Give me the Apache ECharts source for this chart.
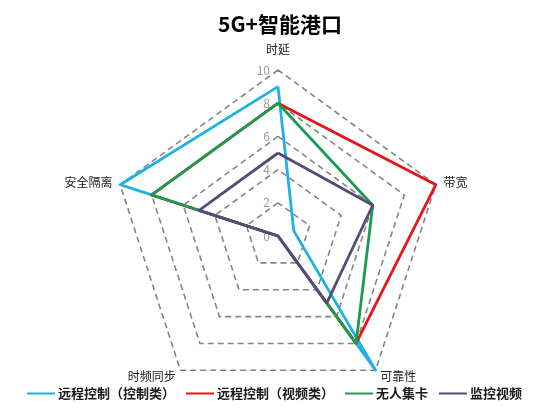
<!DOCTYPE html>
<html>
<head>
<meta charset="utf-8">
<script src="https://cdn.jsdelivr.net/npm/echarts@6/dist/echarts.min.js"></script>
<style>
	html, body { margin: 0; padding: 0; background: #fff; }
	#chart { width: 560px; height: 415px; }
</style>
</head>
<body>
<div id="chart"></div>
<script>
// indicators listed counterclockwise from the top (ECharts radar order)
var indicatorNames = ['时延', '安全隔离', '时频同步', '可靠性', '带宽'];
var seriesNames = ['远程控制（控制类）', '远程控制（视频类）', '无人集卡', '监控视频'];
var ctrlData = [9, 10, 0, 10, 1];
var videoData = [8, 8, 0, 8, 10];
var truckData = [8, 8, 0, 8, 6];
var monitorData = [5, 5, 0, 5, 6];
var colors = ['#1fb1e6', '#e8141b', '#1a9b4f', '#574a78'];

var fontFamily = '"Noto Sans CJK SC", sans-serif';
var allData = [ctrlData, videoData, truckData, monitorData];

var indicator = [];
for (var i = 0; i < indicatorNames.length; i++) {
	var ind = { name: indicatorNames[i], min: 0, max: 10 };
	if (i == 0) {
		ind.axisLabel = { show: true }; // only the top axis carries numbers
	}
	indicator.push(ind);
}

var series = [];
for (var j = 0; j < seriesNames.length; j++) {
	series.push({
		name: seriesNames[j],
		type: 'radar',
		symbol: 'none',
		z: 2 + j,
		lineStyle: { width: 2.8, color: colors[j] },
		itemStyle: { color: colors[j] },
		data: [{ value: allData[j], name: seriesNames[j] }]
	});
}

var myChart = echarts.init(document.getElementById('chart'));
var option = {
	animation: false,
	textStyle: { fontFamily: fontFamily },
	title: {
		text: '5G+智能港口',
		left: 'center',
		top: 9,
		textStyle: { fontSize: 21, fontWeight: 'bold', color: '#000', fontFamily: fontFamily }
	},
	legend: {
		bottom: 10,
		left: 22,
		icon: 'rect',
		itemWidth: 28,
		itemHeight: 2,
		itemGap: 11,
		data: seriesNames,
		textStyle: { fontSize: 13, fontWeight: 'bold', color: '#1a1a1a', fontFamily: fontFamily, padding: [0, 0, 0, -2] }
	},
	radar: {
		center: [278, 236],
		radius: 166,
		splitNumber: 5,
		startAngle: 90,
		shape: 'polygon',
		nameGap: 8,
		axisName: {
			color: '#222',
			fontSize: 12,
			fontFamily: fontFamily,
			formatter: function(name) {
				return name == '时延' ? '{t|' + name + '}' : name;
			},
			rich: {
				t: { fontSize: 12, color: '#222', padding: [0, 0, 7, 0] }
			}
		},
		axisLine: { show: false },
		axisTick: { show: false },
		axisLabel: { show: false, color: '#999', fontSize: 12, margin: 8 },
		splitLine: { lineStyle: { color: '#858585', width: 1.6, type: [6, 4] } },
		splitArea: { show: false },
		indicator: indicator
	},
	series: series
};
myChart.setOption(option);
</script>
</body>
</html>
